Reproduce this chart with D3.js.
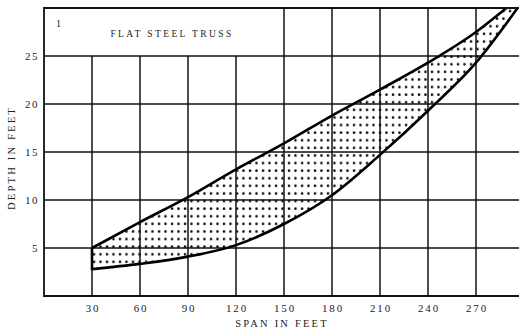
<!DOCTYPE html>
<meta charset="utf-8">
<style>
  body, html { margin: 0; padding: 0; background: #fff; }
  svg { display: block; }
  text { font-family: "Liberation Serif", "DejaVu Serif", serif; fill: #222; }
</style>
<body>
<svg width="519" height="334"></svg>
<script src="https://d3js.org/d3.v7.min.js"></script>
<script>
// values
var spanTicks = [30, 60, 90, 120, 150, 180, 210, 240, 270];
var depthTicks = [5, 10, 15, 20, 25];
var upperSpan  = [30, 60, 90, 120, 150, 180, 210, 240, 270, 289];
var upperDepth = [5, 7.7, 10.3, 13.2, 15.9, 18.8, 21.5, 24.3, 27.5, 30];
var lowerSpan  = [30, 60, 90, 120, 150, 180, 210, 240, 270, 296];
var lowerDepth = [2.8, 3.35, 4.1, 5.3, 7.5, 10.5, 14.7, 19.3, 24.3, 30];
var titleNo = "1";
var title = "FLAT STEEL TRUSS";

var svg = d3.select("svg");
var pLeft = 44, pRight = 519, pTop = 8, pBottom = 296;

var x = d3.scaleLinear().domain([0, 300]).range([pLeft, pLeft + 480]);
var y = d3.scaleLinear().domain([0, 30]).range([pBottom, pTop]);

var defs = svg.append("defs");

// dotted fill
var pat = defs.append("pattern")
    .attr("id", "dots")
    .attr("patternUnits", "userSpaceOnUse")
    .attr("width", 6.5).attr("height", 7.6);
pat.append("rect").attr("width", 6.5).attr("height", 7.6).attr("fill", "#fff");
pat.append("circle").attr("cx", 3).attr("cy", 3.5).attr("r", 1.25).attr("fill", "#000");

var g = svg.append("g");

var line = d3.line()
    .x(function(d) { return x(d[0]); })
    .y(function(d) { return y(d[1]); })
    .curve(d3.curveMonotoneX);

var upper = d3.zip(upperSpan, upperDepth);
var lower = d3.zip(lowerSpan, lowerDepth);

// band = above the lower curve, clipped to below the upper curve
defs.append("clipPath").attr("id", "belowUpper")
  .append("path")
    .attr("d", line(upper) + "L" + x(300) + "," + y(30) + "L" + x(300) + "," + y(0) + "L" + x(30) + "," + y(0) + "Z");

var aboveLower = d3.area()
    .x(function(d) { return x(d[0]); })
    .y0(y(30))
    .y1(function(d) { return y(d[1]); })
    .curve(d3.curveMonotoneX);

g.append("path")
    .attr("d", aboveLower(lower))
    .attr("clip-path", "url(#belowUpper)")
    .attr("fill", "url(#dots)");

// grid
g.selectAll(".hgrid")
    .data(depthTicks)
    .enter().append("line")
    .attr("x1", pLeft).attr("x2", pRight)
    .attr("y1", function(d) { return y(d); })
    .attr("y2", function(d) { return y(d); })
    .attr("stroke", "#111").attr("stroke-width", 1.5);

g.selectAll(".vgrid")
    .data(spanTicks)
    .enter().append("line")
    .attr("x1", function(d) { return x(d); })
    .attr("x2", function(d) { return x(d); })
    .attr("y1", pBottom)
    .attr("y2", function(d) { return d < 150 ? y(25) : pTop; })  // title box above 25 ft
    .attr("stroke", "#111").attr("stroke-width", 1.5);

// band outline
g.append("path")
    .attr("d", line(upper))
    .attr("fill", "none").attr("stroke", "#000").attr("stroke-width", 2.6);
g.append("path")
    .attr("d", line(lower))
    .attr("fill", "none").attr("stroke", "#000").attr("stroke-width", 2.6);
g.append("line")
    .attr("x1", x(30)).attr("x2", x(30))
    .attr("y1", y(lowerDepth[0]) + 1).attr("y2", y(upperDepth[0]))
    .attr("stroke", "#000").attr("stroke-width", 2.6);

// frame
g.append("path")
    .attr("d", "M" + pRight + "," + pTop + "H" + pLeft + "V" + pBottom + "H" + pRight)
    .attr("fill", "none").attr("stroke", "#111").attr("stroke-width", 1.8);

// tick labels
svg.selectAll(".xlab")
    .data(spanTicks)
    .enter().append("text")
    .attr("x", function(d) { return x(d) + 1; })
    .attr("y", pBottom + 16)
    .attr("text-anchor", "middle")
    .style("font-size", "11px")
    .style("letter-spacing", "1.8px")
    .text(function(d) { return d; });

svg.selectAll(".ylab")
    .data(depthTicks)
    .enter().append("text")
    .attr("x", pLeft - 5)
    .attr("y", function(d) { return y(d) + 3.5; })
    .attr("text-anchor", "end")
    .style("font-size", "11px")
    .style("letter-spacing", "1.5px")
    .text(function(d) { return d; });

// axis titles
svg.append("text")
    .attr("x", 282).attr("y", 327)
    .attr("text-anchor", "middle")
    .style("font-size", "10.5px")
    .style("letter-spacing", "2.2px")
    .text("SPAN IN FEET");

svg.append("text")
    .attr("transform", "translate(15,158) rotate(-90)")
    .attr("text-anchor", "middle")
    .style("font-size", "10.5px")
    .style("letter-spacing", "2.2px")
    .text("DEPTH IN FEET");

// title box text
svg.append("text")
    .attr("x", 56).attr("y", 27)
    .style("font-size", "10px")
    .text(titleNo);

svg.append("text")
    .attr("x", 172).attr("y", 37)
    .attr("text-anchor", "middle")
    .style("font-size", "9.5px")
    .style("letter-spacing", "2.4px")
    .text(title);
</script>
</body>
